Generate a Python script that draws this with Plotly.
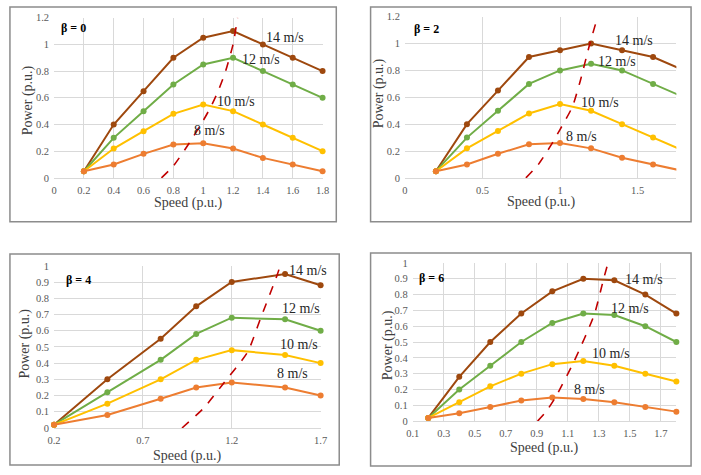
import plotly.graph_objects as go

W, H = 701, 475

# ---------------- data ----------------
speed_a = [0.2, 0.4, 0.6, 0.8, 1.0, 1.2, 1.4, 1.6, 1.8]
speed_b4 = [0.2, 0.5, 0.8, 1.0, 1.2, 1.5, 1.7]

b0_14 = [0.05, 0.40, 0.65, 0.90, 1.05, 1.10, 1.00, 0.90, 0.80]
b0_12 = [0.05, 0.30, 0.50, 0.70, 0.85, 0.90, 0.80, 0.70, 0.60]
b0_10 = [0.05, 0.22, 0.35, 0.48, 0.55, 0.50, 0.40, 0.30, 0.20]
b0_8 = [0.05, 0.10, 0.18, 0.25, 0.26, 0.22, 0.15, 0.10, 0.05]

b2_14 = [0.05, 0.40, 0.65, 0.90, 0.95, 1.00, 0.95, 0.90, 0.80]
b2_12 = [0.05, 0.30, 0.50, 0.70, 0.80, 0.85, 0.80, 0.70, 0.60]
b2_10 = [0.05, 0.22, 0.35, 0.48, 0.55, 0.50, 0.40, 0.30, 0.20]
b2_8 = [0.05, 0.10, 0.18, 0.25, 0.26, 0.22, 0.15, 0.10, 0.05]

b4_14 = [0.02, 0.30, 0.55, 0.75, 0.90, 0.95, 0.88]
b4_12 = [0.02, 0.22, 0.42, 0.58, 0.68, 0.67, 0.60]
b4_10 = [0.02, 0.15, 0.30, 0.42, 0.48, 0.45, 0.40]
b4_8 = [0.02, 0.08, 0.18, 0.25, 0.28, 0.25, 0.20]

b6_14 = [0.02, 0.28, 0.50, 0.68, 0.82, 0.90, 0.89, 0.80, 0.68]
b6_12 = [0.02, 0.20, 0.35, 0.50, 0.62, 0.68, 0.67, 0.60, 0.50]
b6_10 = [0.02, 0.12, 0.22, 0.30, 0.36, 0.38, 0.35, 0.30, 0.25]
b6_8 = [0.02, 0.05, 0.09, 0.13, 0.15, 0.14, 0.12, 0.09, 0.06]

# maximum power point (dashed) curves
mpp0_x = [0.72, 0.80, 0.90, 1.00, 1.05, 1.10, 1.15, 1.20, 1.23]
mpp0_y = [0.00, 0.09, 0.25, 0.43, 0.53, 0.65, 0.80, 1.00, 1.20]
mpp2_x = [0.78, 0.86, 0.94, 1.00, 1.08, 1.13, 1.19, 1.23]
mpp2_y = [0.00, 0.10, 0.24, 0.36, 0.53, 0.72, 0.99, 1.15]
mpp4_x = [0.92, 1.04, 1.15, 1.29, 1.36, 1.457, 1.485]
mpp4_y = [0.00, 0.12, 0.27, 0.47, 0.67, 0.948, 1.048]
mpp6_x = [0.905, 0.96, 1.02, 1.14, 1.27, 1.33, 1.372]
mpp6_y = [0.00, 0.06, 0.15, 0.377, 0.671, 0.895, 1.045]

wind_labels = ["14 m/s", "12 m/s", "10 m/s", "8 m/s"]
colors = ["#9E480E", "#70AD47", "#FFC000", "#ED7D31"]
mpp_color = "#C00000"

panels = [
    dict(beta="β = 0", x=speed_a, ys=[b0_14, b0_12, b0_10, b0_8], mx=mpp0_x, my=mpp0_y,
         xr=[0, 1.8], xt0=0, xdt=0.2, yr=[0, 1.2], ydt=0.2, clip=False,
         dom=(48, 322, 13, 177),
         lab=[(1.55, 1.05), (1.39, 0.89), (1.22, 0.57), (1.04, 0.355)], bpos=(0.13, 1.12),
         box=(3, 336, 2, 222), xtitle=(185, 203), ytitle=(21, 98)),
    dict(beta="β = 2", x=speed_a, ys=[b2_14, b2_12, b2_10, b2_8], mx=mpp2_x, my=mpp2_y,
         xr=[0, 1.75], xt0=0, xdt=0.5, yr=[0, 1.2], ydt=0.2, clip=True,
         dom=(406, 683, 12, 177),
         lab=[(1.48, 1.02), (1.37, 0.87), (1.26, 0.565), (1.14, 0.31)], bpos=(0.14, 1.11),
         box=(371, 698, 2, 222), xtitle=(545, 202), ytitle=(380, 90)),
    dict(beta="β = 4", x=speed_b4, ys=[b4_14, b4_12, b4_10, b4_8], mx=mpp4_x, my=mpp4_y,
         xr=[0.2, 1.7], xt0=0.2, xdt=0.5, yr=[0, 1.0], ydt=0.1, clip=False,
         dom=(48, 320, 267, 433),
         lab=[(1.63, 0.97), (1.59, 0.734), (1.58, 0.516), (1.54, 0.336)], bpos=(0.34, 0.915),
         box=(3, 339, 255, 471), xtitle=(184, 462), ytitle=(18, 347)),
    dict(beta="β = 6", x=speed_a, ys=[b6_14, b6_12, b6_10, b6_8], mx=mpp6_x, my=mpp6_y,
         xr=[0.1, 1.8], xt0=0.1, xdt=0.2, yr=[0, 1.0], ydt=0.1, clip=False,
         dom=(414, 683, 264, 426),
         lab=[(1.59, 0.897), (1.50, 0.71), (1.38, 0.43), (1.24, 0.198)], bpos=(0.22, 0.905),
         box=(371, 698, 254, 472), xtitle=(548, 453), ytitle=(389, 348)),
]

SERIF = "Times New Roman, Liberation Serif, DejaVu Serif, serif"
fig = go.Figure()
annotations = []
shapes = []
layout_axes = {}

for i, p in enumerate(panels):
    n = "" if i == 0 else str(i + 1)
    xa, ya = "x" + n, "y" + n
    for ys, c in zip(p["ys"], colors):
        fig.add_trace(go.Scatter(
            x=p["x"], y=ys, mode="lines+markers", xaxis=xa, yaxis=ya,
            line=dict(color=c, width=2), marker=dict(color=c, size=6),
            cliponaxis=p["clip"], showlegend=False, hoverinfo="skip"))
    fig.add_trace(go.Scatter(
        x=p["mx"], y=p["my"], mode="lines", xaxis=xa, yaxis=ya,
        line=dict(color=mpp_color, width=1.6, dash="dash", shape="spline", smoothing=0.6),
        showlegend=False, hoverinfo="skip"))

    x0, x1, y0, y1 = p["dom"]
    layout_axes["xaxis" + n] = dict(
        domain=[x0 / W, x1 / W], anchor=ya, range=p["xr"], tick0=p["xt0"], dtick=p["xdt"],
        showgrid=True, gridcolor="#D9D9D9", gridwidth=1, zeroline=False,
        showline=True, linecolor="#D9D9D9", linewidth=1, ticks="",
        tickfont=dict(family=SERIF, size=10.5, color="#595959"), ticklabelstandoff=2)
    layout_axes["yaxis" + n] = dict(
        domain=[1 - y1 / H, 1 - y0 / H], anchor=xa, range=p["yr"], dtick=p["ydt"],
        showgrid=True, gridcolor="#D9D9D9", gridwidth=1, zeroline=False,
        showline=False, ticks="",
        tickfont=dict(family=SERIF, size=10.5, color="#595959"), ticklabelstandoff=4)

    for (lx, ly), t in zip(p["lab"], wind_labels):
        annotations.append(dict(x=lx, y=ly, xref=xa, yref=ya, text=t, showarrow=False,
                                xanchor="center", yanchor="middle",
                                font=dict(family=SERIF, size=14, color="#262626")))
    annotations.append(dict(x=p["bpos"][0], y=p["bpos"][1], xref=xa, yref=ya,
                            text="<b>" + p["beta"] + "</b>", showarrow=False,
                            xanchor="center", yanchor="middle",
                            font=dict(family=SERIF, size=12, color="#000000")))
    tx, ty = p["xtitle"]
    annotations.append(dict(x=tx / W, y=1 - ty / H, xref="paper", yref="paper",
                            text="Speed (p.u.)", showarrow=False,
                            xanchor="center", yanchor="middle",
                            font=dict(family=SERIF, size=14, color="#404040")))
    vx, vy = p["ytitle"]
    annotations.append(dict(x=vx / W, y=1 - vy / H, xref="paper", yref="paper",
                            text="Power (p.u.)", showarrow=False, textangle=-90,
                            xanchor="center", yanchor="middle",
                            font=dict(family=SERIF, size=14, color="#404040")))
    bx0, bx1, by0, by1 = p["box"]
    shapes.append(dict(type="rect", xref="paper", yref="paper",
                       x0=bx0 / W, x1=bx1 / W, y0=1 - by1 / H, y1=1 - by0 / H,
                       line=dict(color="#8C8C8C", width=1.5), fillcolor="rgba(0,0,0,0)"))

fig.update_layout(
    width=W, height=H, margin=dict(l=0, r=0, t=0, b=0),
    paper_bgcolor="white", plot_bgcolor="white",
    font=dict(family=SERIF),
    annotations=annotations, shapes=shapes, **layout_axes)

fig.write_html("out.html")
